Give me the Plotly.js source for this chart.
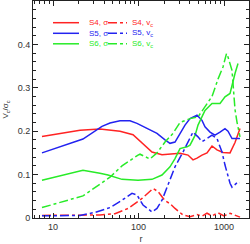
<!DOCTYPE html>
<html><head><meta charset="utf-8">
<script src="https://cdn.plot.ly/plotly-3.0.1.min.js"></script>
<style>html,body{margin:0;padding:0;background:#fff}#plot{width:250px;height:244px}</style>
</head><body><div id="plot"></div>
<script>
// ---- data ----
const s4SigmaR = [7.43,20.7,35.4,60.8,86.3,104.1,125.7,143.8,188.3,215.4,305.8,379.3,434.1,483.4,553,632.8,723.8,828.2,973.4,1176,1345,1539];
const s4SigmaV = [0.188,0.202,0.205,0.200,0.192,0.177,0.163,0.152,0.146,0.147,0.149,0.145,0.134,0.138,0.145,0.150,0.166,0.157,0.151,0.150,0.174,0.206];

const s5SigmaR = [7.43,22.4,37.4,46.4,60.8,79.5,96,125.7,164.6,204.2,233.6,267.3,305.8,349.9,400.4,483.4,553,599.5,686,784.8,898,1027,1114,1241,1539];
const s5SigmaV = [0.150,0.182,0.211,0.219,0.224,0.224,0.218,0.206,0.195,0.180,0.172,0.175,0.195,0.214,0.229,0.237,0.225,0.210,0.198,0.191,0.198,0.206,0.200,0.183,0.183];

const s6SigmaR = [7.43,22.4,35.4,44.0,64.1,98.7,143.8,188.3,233.6,267.3,305.8,369.3,400.4,460,496.6,599.5,723.8,898.3,1027,1176,1345,1458];
const s6SigmaV = [0.087,0.110,0.103,0.099,0.089,0.087,0.089,0.099,0.118,0.137,0.160,0.164,0.168,0.191,0.214,0.248,0.264,0.264,0.279,0.287,0.333,0.356];

const s4VcR = [7.43,20.7,35.4,53.1,75.4,109.9,147.8,169.1,204.2,233.6,267.3,331.5,400.4,483.4,553,632.8,723.8,850.9,1000,1176,1345,1539];
const s4VcV = [0.006,0.007,0.007,0.010,0.022,0.045,0.068,0.061,0.040,0.033,0.022,0.007,0.003,0.008,0.004,0.011,0.005,0.012,0.005,0.011,0.006,0.002];

const s5VcR = [7.43,20.7,31.0,37.4,46.4,64.1,83.9,96,112.9,143.8,164.6,188.3,215.4,246.5,267.3,331.5,400.4,434.1,496.6,553,632.8,723.8,828.2,947.6,1027,1176,1241,1419,1539];
const s5VcV = [0.005,0.006,0.013,0.018,0.024,0.041,0.057,0.053,0.030,0.014,0.022,0.041,0.072,0.103,0.118,0.152,0.187,0.198,0.187,0.176,0.183,0.191,0.183,0.152,0.122,0.080,0.071,0.081,0.081];

const s6VcR = [7.43,22.4,46.4,64.1,98.7,104.1,136,164.6,204.2,253.2,305.8,400.4,496.6,599.5,723.8,850.9,973.4,1070,1114,1241,1345,1419,1539];
const s6VcV = [0.024,0.051,0.094,0.120,0.145,0.147,0.136,0.150,0.175,0.195,0.220,0.229,0.233,0.256,0.280,0.320,0.348,0.379,0.371,0.340,0.250,0.221,0.187];

const seriesNames = ['S4, σ','S5, σ','S6, σ','S4, v<sub>c</sub>','S5, v<sub>c</sub>','S6, v<sub>c</sub>'];
const xTickVals = [10,100,1000];
const xTickText = ['10','100','1000'];

// ---- styles ----
const RED='rgb(255,35,35)', BLUE='rgb(35,35,240)', GREEN='rgb(40,235,40)';
const colors=[RED,BLUE,GREEN,RED,BLUE,GREEN];
const dashes=['solid','solid','solid','dashdot','dashdot','dashdot'];
const xs=[s4SigmaR,s5SigmaR,s6SigmaR,s4VcR,s5VcR,s6VcR];
const ys=[s4SigmaV,s5SigmaV,s6SigmaV,s4VcV,s5VcV,s6VcV];

const traces = xs.map((x,i)=>({x:x,y:ys[i],type:'scatter',mode:'lines',name:seriesNames[i],
  line:{color:colors[i],width:1.5,dash:dashes[i]},showlegend:false}));

// minor ticks on log axis
const minorX=[];
for (let d=1; d<=1000; d*=10) for (let k=2;k<=9;k++) minorX.push(k*d);

// legend drawn as shapes + annotations (paper coords)
const shapes=[], annotations=[];
const W=216, H=217;
const px2x = p => (p-33)/W, py2y = p => 1-(p-1)/H;
const rowsY=[22.7,33.3,43.8];
for (let i=0;i<6;i++){
  const col=i<3?0:1, row=i%3;
  const lx0 = col===0?53:108, lx1 = col===0?79:127, tx = col===0?87:130;
  shapes.push({type:'line',xref:'paper',yref:'paper',x0:px2x(lx0),x1:px2x(lx1),
    y0:py2y(rowsY[row]),y1:py2y(rowsY[row]),line:{color:colors[i],width:1.5,dash:dashes[i]}});
  annotations.push({xref:'paper',yref:'paper',x:px2x(tx),y:py2y(rowsY[row]),xanchor:'left',yanchor:'middle',
    text:seriesNames[i],showarrow:false,font:{family:'Liberation Sans, Arial',size:8,color:colors[i]}});
}

const axisCommon={showline:true,linecolor:'#222',linewidth:1,mirror:'ticks',ticks:'inside',ticklen:5,
  tickcolor:'#222',showgrid:false,zeroline:false,tickfont:{family:'Liberation Sans, Arial',size:9,color:'#333'}};

const layout={
  width:250,height:244,margin:{l:33,r:1,t:1,b:26},paper_bgcolor:'#fff',plot_bgcolor:'#fff',
  showlegend:false,
  xaxis:Object.assign({},axisCommon,{type:'log',range:[0.7661,3.2924],tickvals:xTickVals,ticktext:xTickText,
    minor:{ticks:'inside',ticklen:3,tickcolor:'#222',tickvals:minorX,showgrid:false},
    title:{text:'r',font:{family:'Liberation Sans, Arial',size:9,color:'#333'},standoff:7}}),
  yaxis:Object.assign({},axisCommon,{range:[0,0.5],dtick:0.1,tick0:0,
    minor:{ticks:'inside',ticklen:3,tickcolor:'#222',dtick:0.02,showgrid:false},
    title:{text:'V<sub>c</sub>/σ<sub>c</sub>',font:{family:'Liberation Sans, Arial',size:8,color:'#333'},standoff:7}}),
  shapes:shapes,annotations:annotations
};
Plotly.newPlot('plot',traces,layout,{staticPlot:true,displayModeBar:false});
</script></body></html>
